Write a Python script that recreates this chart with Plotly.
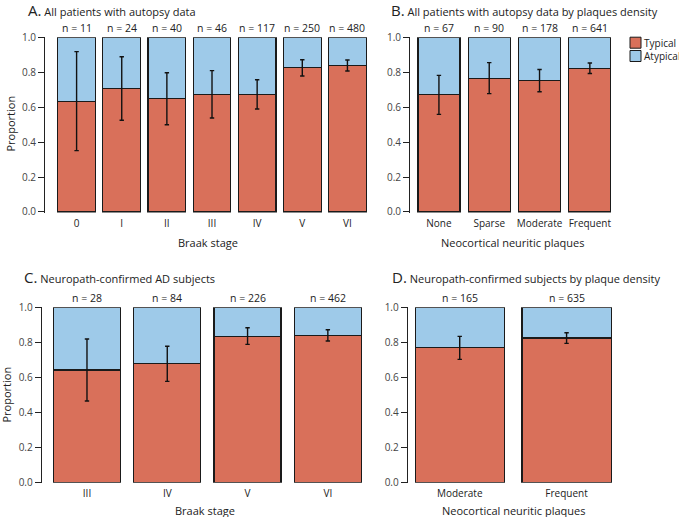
import plotly.graph_objects as go

# ---------------- data ----------------
braak_A = ["0", "I", "II", "III", "IV", "V", "VI"]
n_A = [11, 24, 40, 46, 117, 250, 480]
typ_A = [0.636, 0.708, 0.650, 0.674, 0.675, 0.828, 0.840]
lo_A = [0.352, 0.526, 0.501, 0.539, 0.591, 0.780, 0.809]
hi_A = [0.920, 0.891, 0.799, 0.811, 0.759, 0.874, 0.872]

plaque_B = ["None", "Sparse", "Moderate", "Frequent"]
n_B = [67, 90, 178, 641]
typ_B = [0.672, 0.767, 0.753, 0.824]
lo_B = [0.560, 0.679, 0.690, 0.795]
hi_B = [0.784, 0.857, 0.818, 0.855]

braak_C = ["III", "IV", "V", "VI"]
n_C = [28, 84, 226, 462]
typ_C = [0.643, 0.679, 0.836, 0.842]
lo_C = [0.466, 0.578, 0.790, 0.809]
hi_C = [0.821, 0.779, 0.885, 0.874]

plaque_D = ["Moderate", "Frequent"]
n_D = [165, 635]
typ_D = [0.770, 0.827]
lo_D = [0.704, 0.796]
hi_D = [0.836, 0.857]

series_names = ["Typical", "Atypical"]
titles = ["A.|All patients with autopsy data",
          "B.|All patients with autopsy data by plaques density",
          "C.|Neuropath-confirmed AD subjects",
          "D.|Neuropath-confirmed subjects by plaque density"]
xtitles = ["Braak stage", "Neocortical neuritic plaques",
           "Braak stage", "Neocortical neuritic plaques"]
yticks = [0.0, 0.2, 0.4, 0.6, 0.8, 1.0]

# ---------------- style ----------------
W, H = 679, 517
RED = "#D9705A"
BLUE = "#9ECAE9"
COLORS = [RED, BLUE]
TXT = "#222222"
FONT = "Open Sans"

panels = [
    dict(cats=braak_A, n=n_A, typ=typ_A, lo=lo_A, hi=hi_A,
         px=(45, 370), py=(37.2, 212.5), xr=[-0.70, 6.5], tx=26, ty=9.5, ylab=(9.5, 124), xt=242.7),
    dict(cats=plaque_B, n=n_B, typ=typ_B, lo=lo_B, hi=hi_B,
         px=(410, 615), py=(37.2, 212.5), xr=[-0.575, 3.5], tx=389, ty=9.5, ylab=None, xt=242.7),
    dict(cats=braak_C, n=n_C, typ=typ_C, lo=lo_C, hi=hi_C,
         px=(41.7, 368), py=(307.2, 482.8), xr=[-0.564, 3.5], tx=21.5, ty=277, ylab=(5.5, 395), xt=510),
    dict(cats=plaque_D, n=n_D, typ=typ_D, lo=lo_D, hi=hi_D,
         px=(407.7, 620), py=(307.2, 482.8), xr=[-0.487, 1.5], tx=389.5, ty=277, ylab=None, xt=510),
]

fig = go.Figure()
layout = {}
annotations = []
shapes = []

for i, p in enumerate(panels):
    k = "" if i == 0 else str(i + 1)
    xa, ya = "x" + k, "y" + k
    atyp = [1 - t for t in p["typ"]]
    fig.add_trace(go.Bar(x=p["cats"], y=p["typ"], name=series_names[0], xaxis=xa, yaxis=ya,
                         marker=dict(color=RED, line=dict(color="#1a1a1a", width=1.2)),
                         width=0.835, showlegend=False, hoverinfo="skip"))
    fig.add_trace(go.Bar(x=p["cats"], y=atyp, name=series_names[1], xaxis=xa, yaxis=ya,
                         marker=dict(color=BLUE, line=dict(color="#1a1a1a", width=1.2)),
                         width=0.835, showlegend=False, hoverinfo="skip"))
    fig.add_trace(go.Scatter(x=p["cats"], y=p["typ"], mode="markers", xaxis=xa, yaxis=ya,
                             marker=dict(size=1, opacity=0), showlegend=False, hoverinfo="skip",
                             error_y=dict(type="data", symmetric=False,
                                          array=[h - t for h, t in zip(p["hi"], p["typ"])],
                                          arrayminus=[t - l for t, l in zip(p["typ"], p["lo"])],
                                          color="#111111", thickness=1.4, width=2.2)))
    x0, x1 = p["px"]
    yt, yb = p["py"]
    layout["xaxis" + k] = dict(domain=[x0 / W, x1 / W], range=p["xr"], anchor=ya,
                               showline=False, showgrid=False, zeroline=False,
                               ticks="outside", ticklen=1.5, tickcolor="rgba(0,0,0,0)",
                               tickangle=0, automargin=False,
                               tickfont=dict(family=FONT, size=10, color=TXT),
                               type="category", fixedrange=True)
    layout["yaxis" + k] = dict(domain=[(H - yb) / H, (H - yt) / H], range=[-0.003, 1.003],
                               anchor=xa, showline=True, linecolor="#222222", linewidth=1,
                               showgrid=False, zeroline=False, ticks="outside", ticklen=6,
                               tickcolor="#222222", tickvals=yticks, automargin=False,
                               ticktext=["%.1f" % v for v in yticks],
                               tickfont=dict(family=FONT, size=10, color="#444444"),
                               fixedrange=True)
    for c, nn in zip(p["cats"], p["n"]):
        annotations.append(dict(x=c, y=1, xref=xa, yref=ya, text="n = %d" % nn,
                                showarrow=False, yanchor="middle", yshift=9.5,
                                font=dict(family=FONT, size=10.5, color=TXT)))
    letter, rest = titles[i].split("|")
    annotations.append(dict(x=p["tx"] / W, y=(H - p["ty"]) / H, xref="paper", yref="paper",
                            xanchor="left", yanchor="middle", showarrow=False,
                            text="<span style='font-size:15px'>%s</span> %s" % (letter, rest),
                            font=dict(family=FONT, size=11, color=TXT)))
    annotations.append(dict(x=(x0 + x1) / 2 / W, y=(H - p["xt"]) / H, xref="paper", yref="paper",
                            xanchor="center", yanchor="middle", showarrow=False, text=xtitles[i],
                            font=dict(family=FONT, size=11, color=TXT)))
    if p["ylab"]:
        lx, ly = p["ylab"]
        annotations.append(dict(x=lx / W, y=(H - ly) / H, xref="paper", yref="paper",
                                xanchor="center", yanchor="middle", showarrow=False,
                                text="Proportion", textangle=-90,
                                font=dict(family=FONT, size=11, color=TXT)))

# manual legend (keeps plot areas from being shrunk)
for j, (nm, col) in enumerate(zip(series_names, COLORS)):
    cy = 42.7 + j * 13.3
    shapes.append(dict(type="rect", xref="paper", yref="paper",
                       x0=630 / W, x1=641 / W, y0=(H - (cy + 5.5)) / H, y1=(H - (cy - 5.5)) / H,
                       fillcolor=col, line=dict(color="#1a1a1a", width=1)))
    annotations.append(dict(x=642 / W, y=(H - cy) / H, xref="paper", yref="paper",
                            xanchor="left", yanchor="middle", showarrow=False, text=nm,
                            font=dict(family=FONT, size=10, color=TXT)))

fig.update_layout(
    width=W, height=H, margin=dict(l=0, r=0, t=0, b=0, autoexpand=False),
    paper_bgcolor="white", plot_bgcolor="white",
    barmode="stack", annotations=annotations, shapes=shapes, showlegend=False,
    font=dict(family=FONT, size=11, color=TXT),
    **layout,
)

fig.write_html("out.html", config={"displayModeBar": False},
               post_script="document.body.style.margin='0px';document.body.style.overflow='hidden';")
